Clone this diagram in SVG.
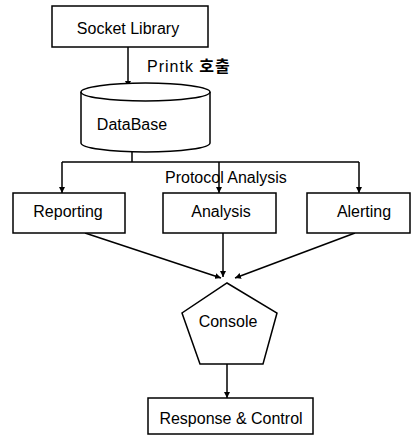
<svg xmlns="http://www.w3.org/2000/svg" width="412" height="437" viewBox="0 0 412 437">
<style>
.b{fill:#fff;stroke:#000;stroke-width:1.5}
.c{fill:none;stroke:#000;stroke-width:1.5}
.t{font-family:"Liberation Sans",Arial,"Noto Sans CJK KR",sans-serif;font-size:16px;fill:#000}
.m{text-anchor:middle}
</style>
<defs>
<marker id="ah" viewBox="0 0 6 6" refX="6" refY="3" markerWidth="6" markerHeight="6" markerUnits="userSpaceOnUse" orient="auto">
<path d="M0,0 L6,3 L0,6 z" fill="#000"/>
</marker>
</defs>
<rect width="412" height="437" fill="#fff"/>
<g id="connectors">
<line class="c" x1="128" y1="47" x2="128" y2="87" marker-end="url(#ah)"/>
<text class="t" x="147" y="72" letter-spacing="1">Printk <tspan font-weight="bold">호출</tspan></text>
<polyline class="c" points="132,152 132,162"/>
<line class="c" x1="62" y1="162" x2="359" y2="162"/>
<line class="c" x1="62" y1="162" x2="62" y2="193" marker-end="url(#ah)"/>
<line class="c" x1="219" y1="162" x2="219" y2="193" marker-end="url(#ah)"/>
<line class="c" x1="359" y1="162" x2="359" y2="193" marker-end="url(#ah)"/>
<text class="t" x="165" y="183">Protocol Analysis</text>
<line class="c" x1="85" y1="233" x2="221" y2="278" marker-end="url(#ah)"/>
<line class="c" x1="223" y1="233" x2="223" y2="277" marker-end="url(#ah)"/>
<line class="c" x1="355" y1="233" x2="235" y2="278" marker-end="url(#ah)"/>
<line class="c" x1="227" y1="364" x2="227" y2="398" marker-end="url(#ah)"/>
</g>
<g id="socket">
<rect class="b" x="52" y="6" width="156" height="41"/>
<text class="t m" x="128" y="34">Socket Library</text>
</g>
<g id="database">
<path class="b" d="M81,92 L81,143 A64.5,9 0 0 0 210,143 L210,92 A64.5,9 0 0 0 81,92 Z"/>
<path class="c" d="M81,92 A64.5,9 0 0 0 210,92"/>
<text class="t m" x="132" y="130">DataBase</text>
</g>
<g id="reporting">
<rect class="b" x="13" y="193" width="112" height="40"/>
<text class="t m" x="68" y="217">Reporting</text>
</g>
<g id="analysis">
<rect class="b" x="163" y="193" width="113" height="40"/>
<text class="t m" x="221" y="217">Analysis</text>
</g>
<g id="alerting">
<rect class="b" x="307" y="193" width="103" height="40"/>
<text class="t m" x="364" y="217">Alerting</text>
</g>
<g id="console">
<polygon class="b" points="227,283 277,313 263,364 200,364 182,313"/>
<text class="t m" x="228" y="327">Console</text>
</g>
<g id="response">
<rect class="b" x="148" y="398" width="165" height="36"/>
<text class="t m" x="231" y="424">Response &amp; Control</text>
</g>
</svg>
